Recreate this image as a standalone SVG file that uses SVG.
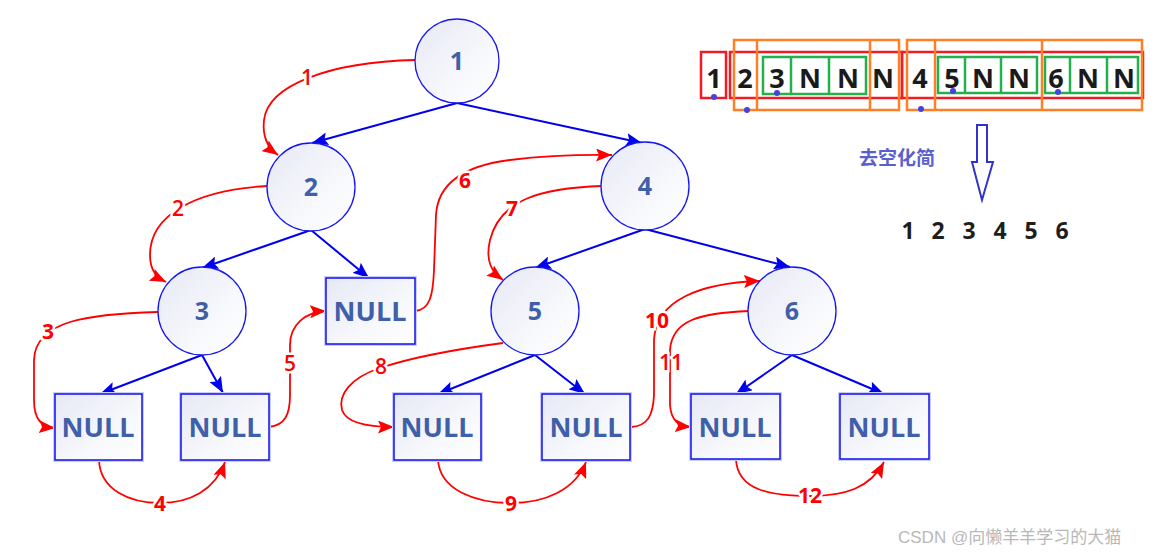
<svg xmlns="http://www.w3.org/2000/svg" width="1165" height="555" viewBox="0 0 1165 555">
<defs>
<linearGradient id="g" x1="0" y1="0" x2="1" y2="1">
<stop offset="0" stop-color="#e6e8f5"/>
<stop offset="0.6" stop-color="#f7f8fc"/>
<stop offset="1" stop-color="#ffffff"/>
</linearGradient>
<marker id="ab" markerUnits="userSpaceOnUse" markerWidth="17" markerHeight="13" refX="16" refY="6.5" orient="auto">
<path d="M0,0 L16,6.5 L0,13 L3,6.5 z" fill="#0000ee"/>
</marker>
<marker id="ar" markerUnits="userSpaceOnUse" markerWidth="17" markerHeight="13" refX="16" refY="6.5" orient="auto">
<path d="M0,0 L16,6.5 L0,13 L3,6.5 z" fill="#ff0000"/>
</marker>
<style>
.c{fill:url(#g);stroke:#1515ee;stroke-width:1.3}
.bh{fill:none;stroke:#c9cdf7;stroke-width:4}
.b{fill:url(#g);stroke:#1010ee;stroke-width:1.5}
.nt{font-family:"Open Sans","Liberation Sans",sans-serif;font-weight:700;font-size:25px;fill:#3f5fa8;text-anchor:middle}
.nn{font-family:"Open Sans","Liberation Sans",sans-serif;font-weight:700;font-size:27px;fill:#3f5fa8;text-anchor:middle}
.e{fill:none;stroke:#0000ee;stroke-width:2;marker-end:url(#ab)}
.r{fill:none;stroke:#ff0000;stroke-width:1.8;marker-end:url(#ar)}
.rl{font-family:"Open Sans","Liberation Sans",sans-serif;font-weight:600;font-size:21px;fill:#ff0000;text-anchor:middle;stroke:#fff;stroke-width:5;paint-order:stroke}
.rb{font-weight:700}
.ar{font-family:"Open Sans","Liberation Sans",sans-serif;font-weight:700;font-size:27px;fill:#1a1a1a;text-anchor:middle}
.bx{fill:none;stroke-width:2.5}
.dot{fill:#4444dd}
</style>
</defs>
<rect width="1165" height="555" fill="#ffffff"/>

<g id="connectors">
<path class="e" d="M457,103 L312,143"/>
<path class="e" d="M457,103 L642,143"/>
<path class="e" d="M311,230 L202,268"/>
<path class="e" d="M311,230 L369,278"/>
<path class="e" d="M202,355 L100,394"/>
<path class="e" d="M202,355 L223,393"/>
<path class="e" d="M645,229 L535,268"/>
<path class="e" d="M645,229 L790,267"/>
<path class="e" d="M535,355 L438,394"/>
<path class="e" d="M535,355 L585,394"/>
<path class="e" d="M792,355 L736,394"/>
<path class="e" d="M792,355 L884,394"/>

<path class="r" d="M415,60 C330,62 268,85 264,120 C262,138 268,148 278,155"/>
<path class="r" d="M267,186 C195,190 150,215 150,255 C150,270 156,277 166,282"/>
<path class="r" d="M158,312 C90,314 35,320 34,360 L34,400 C34,420 42,427 55,428"/>
<path class="r" d="M99,460 C100,490 130,503 160,503 C190,503 215,490 225,462"/>
<path class="r" d="M269,427 C285,425 290,415 290,395 L290,345 C290,325 305,312 326,311"/>
<path class="r" d="M415,311 C430,310 433,295 434,270 L436,215 C438,180 470,165 510,160 C560,154 590,155 612,155"/>
<path class="r" d="M602,186 C540,188 500,200 490,240 C485,262 492,272 503,280"/>
<path class="r" d="M503,343 C450,350 410,358 380,368 C350,378 338,395 342,410 C346,422 365,427 394,427"/>
<path class="r" d="M438,460 C440,490 475,503 511,503 C545,503 575,490 586,462"/>
<path class="r" d="M631,427 C648,426 653,415 654,395 L654,340 C656,300 700,283 760,281"/>
<path class="r" d="M749,311 C700,313 672,320 670,350 L670,405 C671,420 678,426 691,427"/>
<path class="r" d="M736,460 C738,490 770,496 810,496 C845,496 870,488 884,462"/>

<text class="rl" x="307" y="85">1</text>
<text class="rl" x="178" y="216">2</text>
<text class="rl rb" x="48" y="339">3</text>
<text class="rl rb" x="160" y="511">4</text>
<text class="rl" x="290" y="371">5</text>
<text class="rl rb" x="465" y="188">6</text>
<text class="rl rb" x="512" y="216">7</text>
<text class="rl" x="381" y="374">8</text>
<text class="rl rb" x="511" y="511">9</text>
<text class="rl rb" x="657" y="328">10</text>
<text class="rl" x="671" y="370">11</text>
<text class="rl rb" x="810" y="503">12</text>
</g>

<g id="n1"><circle class="c" cx="457" cy="61" r="42"/><text class="nt" x="457" y="70">1</text></g>
<g id="n2"><circle class="c" cx="311" cy="187" r="44"/><text class="nt" x="311" y="196">2</text></g>
<g id="n3"><circle class="c" cx="202" cy="311" r="44"/><text class="nt" x="202" y="320">3</text></g>
<g id="n4"><circle class="c" cx="645" cy="186" r="44"/><text class="nt" x="645" y="195">4</text></g>
<g id="n5"><circle class="c" cx="535" cy="311" r="44"/><text class="nt" x="535" y="320">5</text></g>
<g id="n6"><circle class="c" cx="792" cy="311" r="44"/><text class="nt" x="792" y="320">6</text></g>

<g id="null2"><rect class="bh" x="326" y="278" width="89" height="66"/><rect class="b" x="326" y="278" width="89" height="66"/><text class="nn" x="370" y="321">NULL</text></g>
<g id="null3l"><rect class="bh" x="55" y="394" width="87" height="66"/><rect class="b" x="55" y="394" width="87" height="66"/><text class="nn" x="98" y="437">NULL</text></g>
<g id="null3r"><rect class="bh" x="181" y="394" width="88" height="66"/><rect class="b" x="181" y="394" width="88" height="66"/><text class="nn" x="225" y="437">NULL</text></g>
<g id="null5l"><rect class="bh" x="394" y="394" width="87" height="66"/><rect class="b" x="394" y="394" width="87" height="66"/><text class="nn" x="437" y="437">NULL</text></g>
<g id="null5r"><rect class="bh" x="542" y="394" width="88" height="66"/><rect class="b" x="542" y="394" width="88" height="66"/><text class="nn" x="586" y="437">NULL</text></g>
<g id="null6l"><rect class="bh" x="691" y="394" width="89" height="65"/><rect class="b" x="691" y="394" width="89" height="65"/><text class="nn" x="735" y="437">NULL</text></g>
<g id="null6r"><rect class="bh" x="840" y="394" width="89" height="65"/><rect class="b" x="840" y="394" width="89" height="65"/><text class="nn" x="884" y="437">NULL</text></g>

<g id="array">
<rect class="bx" x="701" y="52" width="25" height="46" stroke="#ee1c24"/>
<rect class="bx" x="730" y="52" width="172" height="46" stroke="#ee1c24"/>
<rect class="bx" x="902" y="52" width="241" height="46" stroke="#ee1c24"/>
<rect class="bx" x="734" y="40" width="165" height="70" stroke="#ff7f27"/>
<line class="bx" x1="757" y1="40" x2="757" y2="110" stroke="#ff7f27"/>
<line class="bx" x1="870" y1="40" x2="870" y2="110" stroke="#ff7f27"/>
<rect class="bx" x="907" y="40" width="235" height="70" stroke="#ff7f27"/>
<line class="bx" x1="935" y1="40" x2="935" y2="110" stroke="#ff7f27"/>
<line class="bx" x1="1042" y1="40" x2="1042" y2="110" stroke="#ff7f27"/>
<rect class="bx" x="763" y="57" width="103" height="37" stroke="#22b14c"/>
<line class="bx" x1="791" y1="57" x2="791" y2="94" stroke="#22b14c"/>
<line class="bx" x1="829" y1="57" x2="829" y2="94" stroke="#22b14c"/>
<rect class="bx" x="938" y="57" width="99" height="36" stroke="#22b14c"/>
<line class="bx" x1="965" y1="57" x2="965" y2="93" stroke="#22b14c"/>
<line class="bx" x1="1001" y1="57" x2="1001" y2="93" stroke="#22b14c"/>
<rect class="bx" x="1045" y="57" width="93" height="36" stroke="#22b14c"/>
<line class="bx" x1="1070" y1="57" x2="1070" y2="93" stroke="#22b14c"/>
<line class="bx" x1="1107" y1="57" x2="1107" y2="93" stroke="#22b14c"/>
<text class="ar" x="714" y="88">1</text>
<text class="ar" x="745" y="88">2</text>
<text class="ar" x="777" y="88">3</text>
<text class="ar" x="810" y="88">N</text>
<text class="ar" x="848" y="88">N</text>
<text class="ar" x="883" y="88">N</text>
<text class="ar" x="920" y="88">4</text>
<text class="ar" x="952" y="88">5</text>
<text class="ar" x="983" y="88">N</text>
<text class="ar" x="1019" y="88">N</text>
<text class="ar" x="1056" y="88">6</text>
<text class="ar" x="1088" y="88">N</text>
<text class="ar" x="1124" y="88">N</text>
<circle class="dot" cx="714" cy="97" r="3"/>
<circle class="dot" cx="747" cy="110" r="3"/>
<circle class="dot" cx="777" cy="93" r="3"/>
<circle class="dot" cx="921" cy="109" r="3"/>
<circle class="dot" cx="953" cy="91" r="3"/>
<circle class="dot" cx="1058" cy="92" r="3"/>
</g>

<g id="simplify">
<path d="M977,125 L987,125 L987,162 L993,162 L982,200 L972,162 L977,162 Z" fill="#ffffff" stroke="#3333cc" stroke-width="2" stroke-linejoin="miter"/>
<text x="859" y="165" font-family="Noto Sans CJK SC,sans-serif" font-weight="700" font-size="19" fill="#5a5fd0">去空化简</text>
<g font-family="Open Sans,Liberation Sans,sans-serif" font-weight="700" font-size="23" fill="#1e1e1e" text-anchor="middle">
<text x="908" y="239">1</text>
<text x="938" y="239">2</text>
<text x="969" y="239">3</text>
<text x="1000" y="239">4</text>
<text x="1031" y="239">5</text>
<text x="1062" y="239">6</text>
</g>
</g>

<text x="898" y="543" font-family="Liberation Sans,Noto Sans CJK SC,sans-serif" font-size="17" fill="#b8b8b8">CSDN @向懒羊羊学习的大猫</text>
</svg>
